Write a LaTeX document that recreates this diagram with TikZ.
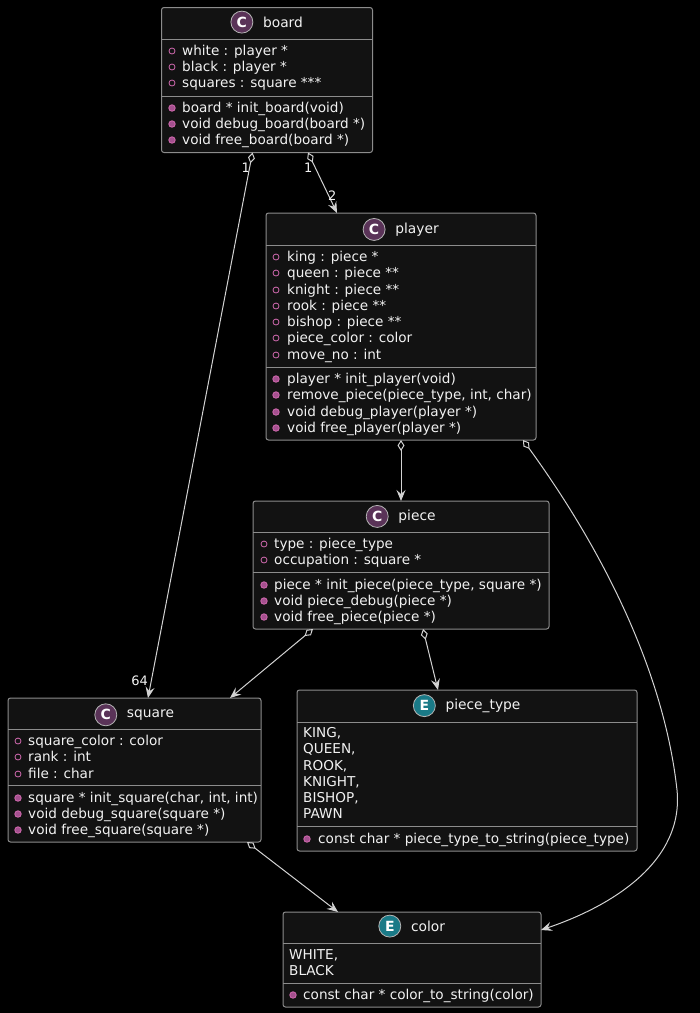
\documentclass[tikz,border=0pt]{standalone}
\usepackage{fontspec}
\setmainfont{DejaVu Sans}
\usetikzlibrary{arrows.meta,calc}
\definecolor{bg}{HTML}{000000}
\definecolor{boxfill}{HTML}{121212}
\definecolor{boxline}{HTML}{8C8C8C}
\definecolor{lnk}{HTML}{D2D2D2}
\definecolor{cspot}{HTML}{5A3358}
\definecolor{espot}{HTML}{1A7A87}
\definecolor{mark}{HTML}{D26AB0}
\definecolor{markfill}{HTML}{A5508F}
\definecolor{spotline}{HTML}{B4B4B4}
\definecolor{ink}{HTML}{F2F2F2}
\tikzset{
  classbox/.style={draw=boxline, fill=boxfill, rounded corners=2.5pt, line width=1pt, inner sep=0pt, outer sep=0pt},
  divline/.style={draw=boxline, line width=1pt},
  txt/.style={anchor=mid west, inner sep=0pt, yshift=-1.5pt, text=ink, font=\fontsize{13.6}{16}\selectfont},
  ttl/.style={anchor=mid, inner sep=0pt, yshift=-1.5pt, text=ink, font=\fontsize{13.8}{16}\selectfont},
  attrmark/.style={circle, draw=mark, line width=0.8pt, minimum size=6pt, inner sep=0pt},
  methmark/.style={circle, draw=mark, fill=markfill, line width=0.8pt, minimum size=6.5pt, inner sep=0pt},
  spot/.style={circle, draw=spotline, line width=0.8pt, minimum size=22pt, inner sep=0pt, text=white, font=\fontsize{14}{14}\selectfont\bfseries},
  lbl/.style={inner sep=0pt, yshift=-1pt, text=ink, font=\fontsize{13}{13}\selectfont},
  link/.style={draw=lnk, line width=1pt, arrows={Diamond[open, length=11pt, width=7pt]-Stealth[length=11pt, width=9pt, inset=4pt, fill=lnk]}}
}
\begin{document}
\begin{tikzpicture}[x=1pt,y=-1pt]
\fill[bg] (0,0) rectangle (700,1013);
\useasboundingbox (0,0) rectangle (700,1013);

% ---------- board ----------
\node[classbox, minimum width=211pt, minimum height=145pt] (board) at (267,80) {};
\node[ttl] (board-t) at (283,23) {board};
\node[spot, fill=cspot] at ($(board-t.west)+(-21,0)$) {C};
\draw[divline] (161.5,39) -- (372.5,39);
\draw[divline] (161.5,96) -- (372.5,96);
\node[attrmark] at (172,51) {}; \node[txt] at (182,51) {white : player *};
\node[attrmark] at (172,67) {}; \node[txt] at (182,67) {black : player *};
\node[attrmark] at (172,83) {}; \node[txt] at (182,83) {squares : square ***};
\node[methmark] at (172,108) {}; \node[txt] at (182,108) {board * init\_board(void)};
\node[methmark] at (172,124) {}; \node[txt] at (182,124) {void debug\_board(board *)};
\node[methmark] at (172,140) {}; \node[txt] at (182,140) {void free\_board(board *)};

% ---------- player ----------
\node[classbox, minimum width=270pt, minimum height=227pt] (player) at (401,326.5) {};
\node[ttl] (player-t) at (417,229) {player};
\node[spot, fill=cspot] at ($(player-t.west)+(-21,0)$) {C};
\draw[divline] (266,245) -- (536,245);
\draw[divline] (266,367) -- (536,367);
\node[attrmark] at (276,257) {}; \node[txt] at (287,257) {king : piece *};
\node[attrmark] at (276,273) {}; \node[txt] at (287,273) {queen : piece **};
\node[attrmark] at (276,290) {}; \node[txt] at (287,290) {knight : piece **};
\node[attrmark] at (276,306) {}; \node[txt] at (287,306) {rook : piece **};
\node[attrmark] at (276,322) {}; \node[txt] at (287,322) {bishop : piece **};
\node[attrmark] at (276,338) {}; \node[txt] at (287,338) {piece\_color : color};
\node[attrmark] at (276,355) {}; \node[txt] at (287,355) {move\_no : int};
\node[methmark] at (276,379) {}; \node[txt] at (287,379) {player * init\_player(void)};
\node[methmark] at (276,395) {}; \node[txt] at (287,395) {remove\_piece(piece\_type, int, char)};
\node[methmark] at (276,412) {}; \node[txt] at (287,412) {void debug\_player(player *)};
\node[methmark] at (276,428) {}; \node[txt] at (287,428) {void free\_player(player *)};

% ---------- piece ----------
\node[classbox, minimum width=296pt, minimum height=128pt] (piece) at (401,565) {};
\node[ttl] (piece-t) at (417,516) {piece};
\node[spot, fill=cspot] at ($(piece-t.west)+(-21,0)$) {C};
\draw[divline] (253,532) -- (549,532);
\draw[divline] (253,572) -- (549,572);
\node[attrmark] at (264,544) {}; \node[txt] at (274,544) {type : piece\_type};
\node[attrmark] at (264,560) {}; \node[txt] at (274,560) {occupation : square *};
\node[methmark] at (264,585) {}; \node[txt] at (274,585) {piece * init\_piece(piece\_type, square *)};
\node[methmark] at (264,601) {}; \node[txt] at (274,601) {void piece\_debug(piece *)};
\node[methmark] at (264,617) {}; \node[txt] at (274,617) {void free\_piece(piece *)};

% ---------- square ----------
\node[classbox, minimum width=253pt, minimum height=144pt] (square) at (134.5,770) {};
\node[ttl] (square-t) at (150.5,713) {square};
\node[spot, fill=cspot] at ($(square-t.west)+(-21,0)$) {C};
\draw[divline] (8,729) -- (261,729);
\draw[divline] (8,785) -- (261,785);
\node[attrmark] at (18,741) {}; \node[txt] at (28,741) {square\_color : color};
\node[attrmark] at (18,757) {}; \node[txt] at (28,757) {rank : int};
\node[attrmark] at (18,774) {}; \node[txt] at (28,774) {file : char};
\node[methmark] at (18,798) {}; \node[txt] at (28,798) {square * init\_square(char, int, int)};
\node[methmark] at (18,814) {}; \node[txt] at (28,814) {void debug\_square(square *)};
\node[methmark] at (18,830) {}; \node[txt] at (28,830) {void free\_square(square *)};

% ---------- piece_type ----------
\node[classbox, minimum width=340pt, minimum height=161pt] (ptype) at (467,770.5) {};
\node[ttl] (ptype-t) at (483,705) {piece\_type};
\node[spot, fill=espot] at ($(ptype-t.west)+(-21,0)$) {E};
\draw[divline] (297,722) -- (637,722);
\draw[divline] (297,826) -- (637,826);
\node[txt] at (303,733) {KING,};
\node[txt] at (303,749) {QUEEN,};
\node[txt] at (303,766) {ROOK,};
\node[txt] at (303,782) {KNIGHT,};
\node[txt] at (303,798) {BISHOP,};
\node[txt] at (303,814) {PAWN};
\node[methmark] at (307,839) {}; \node[txt] at (318,839) {const char * piece\_type\_to\_string(piece\_type)};

% ---------- color ----------
\node[classbox, minimum width=258pt, minimum height=95pt] (color) at (412,959.5) {};
\node[ttl] (color-t) at (428,927) {color};
\node[spot, fill=espot] at ($(color-t.west)+(-21,0)$) {E};
\draw[divline] (283,943) -- (541,943);
\draw[divline] (283,983) -- (541,983);
\node[txt] at (289,955) {WHITE,};
\node[txt] at (289,971) {BLACK};
\node[methmark] at (293,995) {}; \node[txt] at (303,995) {const char * color\_to\_string(color)};

% ---------- connectors ----------
\draw[link] ([xshift=91pt]board.south west) -- ([xshift=140pt]square.north west);
\draw[link] ([xshift=146.5pt]board.south west) -- ([xshift=71pt]player.north west);
\draw[link] (player.south) -- (piece.north);
\draw[link] ([xshift=257pt]player.south west) .. controls (610,560) and (665,680) .. (677,790)
  .. controls (684,860) and (615,905) .. ([yshift=-18pt]color.north east);
\draw[link] ([xshift=60pt]piece.south west) -- ([xshift=222pt]square.north west);
\draw[link] ([xshift=170pt]piece.south west) -- ([xshift=141pt]ptype.north west);
\draw[link] ([xshift=239pt]square.south west) -- ([xshift=55pt]color.north west);

% ---------- multiplicities ----------
\node[lbl, anchor=mid east] (m1) at (250,169) {1};
\node[lbl, anchor=mid west] (m2) at (304,169) {1};
\node[lbl, anchor=mid west] (m3) at (328,197) {2};
\node[lbl, anchor=mid east] (m4) at (148,682) {64};
\end{tikzpicture}
\end{document}
